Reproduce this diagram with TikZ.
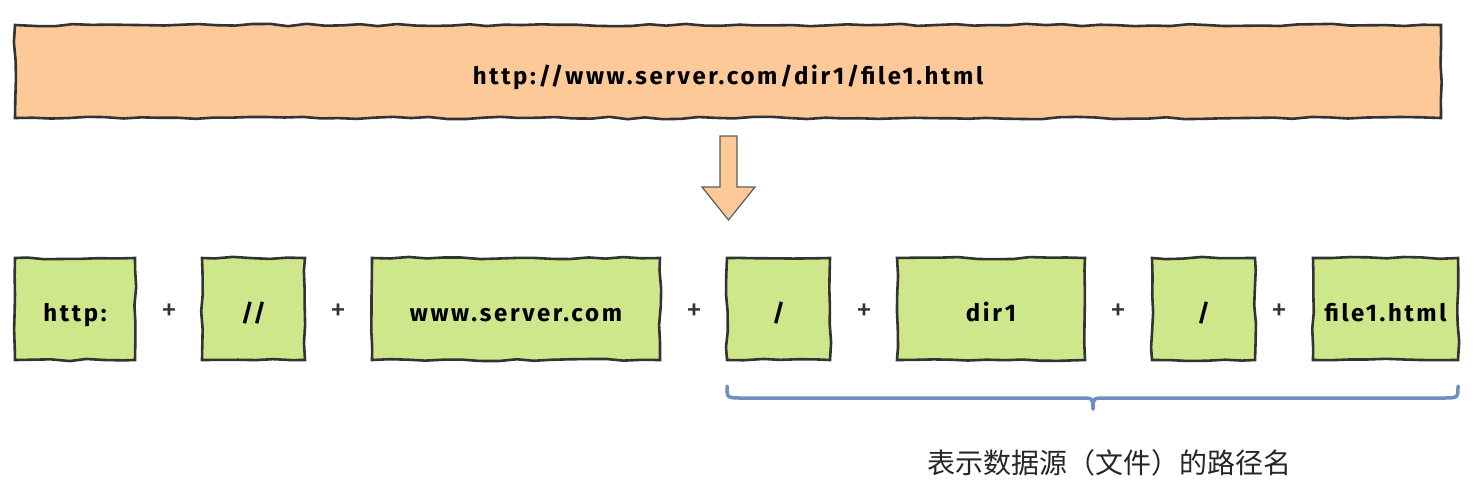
\documentclass[tikz,border=0pt]{standalone}
\usepackage{fontspec}
\setmainfont{Fira Sans}
\newfontfamily\comic[LetterSpace=11]{Fira Sans}
\newfontfamily\cjk{Noto Sans CJK SC}
\usetikzlibrary{decorations.pathmorphing}
\definecolor{orangefill}{HTML}{FDC998}
\definecolor{greenfill}{HTML}{CDE78A}
\definecolor{edgegray}{HTML}{333333}
\definecolor{braceblue}{HTML}{6F8FC0}
\tikzset{
  wobbly/.style={decorate,decoration={random steps,segment length=18pt,amplitude=1.2pt}},
  urlbox/.style={draw=edgegray,line width=2.6pt,fill=orangefill,minimum width=1426pt,minimum height=93pt,
     inner sep=0pt,text height=25pt,text depth=0pt,font=\comic\fontsize{24}{26}\selectfont\bfseries, wobbly},
  partbox/.style={draw=edgegray,line width=2.6pt,fill=greenfill,minimum height=102pt,
     inner sep=0pt,text height=25pt,text depth=0pt,font=\comic\fontsize{24}{26}\selectfont\bfseries, wobbly},
  plus/.style={font=\fontsize{32}{34}\selectfont,text=edgegray,inner sep=0pt},
  downarrow/.style={draw=edgegray!80,line width=1.2pt,fill=orangefill,line join=miter},
  bracestyle/.style={draw=braceblue,line width=3.5pt,line cap=round,line join=round},
  caption/.style={font=\cjk\fontsize{28}{32}\selectfont,text=black!85,inner sep=0pt}
}
\begin{document}
\begin{tikzpicture}[x=1pt,y=-1pt]
\pgfmathsetseed{7}
\useasboundingbox (0,0) rectangle (1481,490);
\node[urlbox] (url) at (728,71.5) {http://www.server.com/dir1/file1.html};
% arrow
\draw[downarrow] (720,136) -- (737,136) -- (737,187) -- (755,187) -- (728.5,220) -- (702,187) -- (720,187) -- cycle;
% parts
\node[partbox,minimum width=120pt] (b1) at (75,309) {http:};
\node[partbox,minimum width=103pt] (b2) at (253.5,309) {//};
\node[partbox,minimum width=288pt] (b3) at (516,309) {www.server.com};
\node[partbox,minimum width=103pt] (b4) at (778.5,309) {/};
\node[partbox,minimum width=188pt] (b5) at (991,309) {dir1};
\node[partbox,minimum width=103pt] (b6) at (1203.5,309) {/};
\node[partbox,minimum width=145pt] (b7) at (1385.5,309) {file1.html};
\node[plus] (p1) at (169,312) {+};
\node[plus] (p2) at (338,312) {+};
\node[plus] (p3) at (694,312) {+};
\node[plus] (p4) at (864,312) {+};
\node[plus] (p5) at (1118,312) {+};
\node[plus] (p6) at (1279,312) {+};
% brace
\draw[bracestyle] (727,386) .. controls (727,398) and (727,398) .. (742,398) -- (1080,398)
   .. controls (1093,398) and (1093,398) .. (1093,409);
\draw[bracestyle] (1458,386) .. controls (1458,398) and (1458,398) .. (1443,398) -- (1106,398)
   .. controls (1093,398) and (1093,398) .. (1093,409);
\node[caption] (cap) at (1109,463) {表示数据源（文件）的路径名};
\end{tikzpicture}
\end{document}
